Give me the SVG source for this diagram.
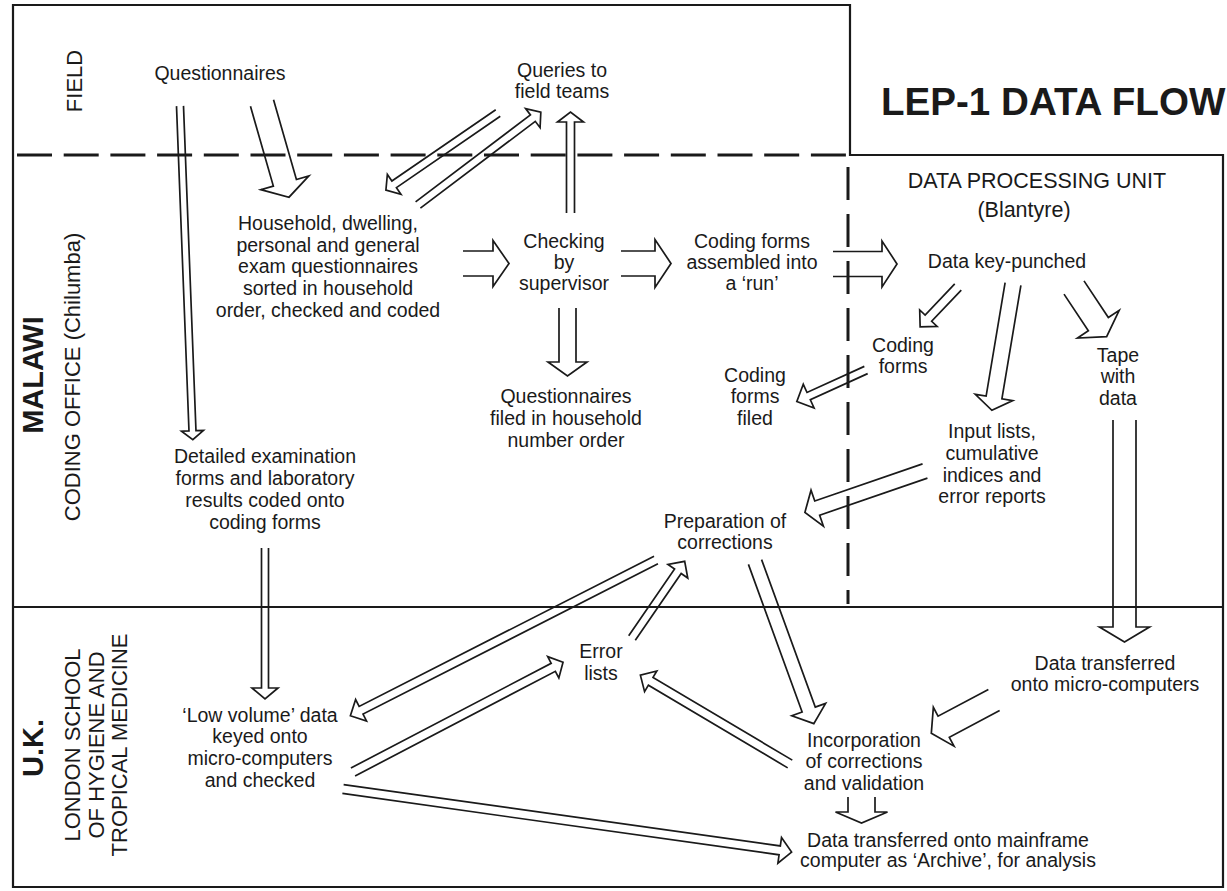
<svg xmlns="http://www.w3.org/2000/svg" width="1227" height="891" viewBox="0 0 1227 891">
<style>
text{font-family:"Liberation Sans",Arial,Helvetica,sans-serif;fill:#1a1a1a}
.t{font-size:19.5px;text-anchor:middle}
.zone{font-size:22px;text-anchor:middle}
.zb{font-size:29px;font-weight:bold;text-anchor:middle}
.frame{fill:none;stroke:#1a1a1a;stroke-width:2.2}
.dash{fill:none;stroke:#1a1a1a;stroke-width:3}
.arr{fill:none;stroke:#1a1a1a;stroke-width:1.7;stroke-linejoin:miter}
</style>
<rect width="1227" height="891" fill="#ffffff"/>
<g id="frame">
<path class="frame" d="M13,5 H850 V155 H1223 V887 H13 Z"/>
<line class="frame" x1="13" y1="607" x2="1223" y2="607"/>
<line class="dash" x1="17" y1="155" x2="850" y2="155" stroke-dasharray="35 11.7"/>
<line class="dash" x1="848" y1="167" x2="848" y2="604" stroke-dasharray="33 14"/>
</g>
<g id="zone-labels">
<text class="zone" transform="translate(82,81) rotate(-90)">FIELD</text>
<text class="zb" transform="translate(43,375) rotate(-90)">MALAWI</text>
<text class="zone" transform="translate(80,377) rotate(-90)">CODING OFFICE (Chilumba)</text>
<text class="zb" transform="translate(43,748) rotate(-90)">U.K.</text>
<text class="zone" transform="translate(80,745) rotate(-90)">LONDON SCHOOL</text>
<text class="zone" transform="translate(103.5,745) rotate(-90)">OF HYGIENE AND</text>
<text class="zone" transform="translate(127,745) rotate(-90)">TROPICAL MEDICINE</text>
</g>
<g id="title">
<text x="881" y="115" style="font-size:38.6px;font-weight:bold">LEP-1 DATA FLOW</text>
</g>
<g id="dpu-label">
<text class="t" x="1037" y="188" style="font-size:21.5px">DATA PROCESSING UNIT</text>
<text class="t" x="1024" y="217" style="font-size:21.5px">(Blantyre)</text>
</g>
<g id="questionnaires"><text class="t" x="220" y="80">Questionnaires</text></g>
<g id="queries"><text class="t" x="562" y="77">Queries to</text><text class="t" x="562" y="98">field teams</text></g>
<g id="household">
<text class="t" x="328" y="230">Household, dwelling,</text>
<text class="t" x="328" y="252">personal and general</text>
<text class="t" x="328" y="273">exam questionnaires</text>
<text class="t" x="328" y="295">sorted in household</text>
<text class="t" x="328" y="317">order, checked and coded</text>
</g>
<g id="checking">
<text class="t" x="564" y="248">Checking</text>
<text class="t" x="564" y="269">by</text>
<text class="t" x="564" y="290">supervisor</text>
</g>
<g id="assembled">
<text class="t" x="752" y="248">Coding forms</text>
<text class="t" x="752" y="269">assembled into</text>
<text class="t" x="752" y="290">a ‘run’</text>
</g>
<g id="keypunched"><text class="t" x="1007" y="268">Data key-punched</text></g>
<g id="q-filed">
<text class="t" x="566" y="403">Questionnaires</text>
<text class="t" x="566" y="425">filed in household</text>
<text class="t" x="566" y="447">number order</text>
</g>
<g id="cf-filed">
<text class="t" x="755" y="382">Coding</text>
<text class="t" x="755" y="403">forms</text>
<text class="t" x="755" y="425">filed</text>
</g>
<g id="coding-forms">
<text class="t" x="903" y="352">Coding</text>
<text class="t" x="903" y="373">forms</text>
</g>
<g id="tape">
<text class="t" x="1118" y="362">Tape</text>
<text class="t" x="1118" y="383">with</text>
<text class="t" x="1118" y="405">data</text>
</g>
<g id="input-lists">
<text class="t" x="992" y="438">Input lists,</text>
<text class="t" x="992" y="460">cumulative</text>
<text class="t" x="992" y="482">indices and</text>
<text class="t" x="992" y="503">error reports</text>
</g>
<g id="detailed">
<text class="t" x="265" y="463">Detailed examination</text>
<text class="t" x="265" y="485">forms and laboratory</text>
<text class="t" x="265" y="507">results coded onto</text>
<text class="t" x="265" y="529">coding forms</text>
</g>
<g id="preparation">
<text class="t" x="725" y="528">Preparation of</text>
<text class="t" x="725" y="549">corrections</text>
</g>
<g id="error-lists">
<text class="t" x="601" y="658">Error</text>
<text class="t" x="601" y="680">lists</text>
</g>
<g id="low-volume">
<text class="t" x="260" y="722">‘Low volume’ data</text>
<text class="t" x="260" y="743">keyed onto</text>
<text class="t" x="260" y="765">micro-computers</text>
<text class="t" x="260" y="787">and checked</text>
</g>
<g id="transferred-micro">
<text class="t" x="1105" y="670">Data transferred</text>
<text class="t" x="1105" y="691">onto micro-computers</text>
</g>
<g id="incorporation">
<text class="t" x="864" y="747">Incorporation</text>
<text class="t" x="864" y="768">of corrections</text>
<text class="t" x="864" y="790">and validation</text>
</g>
<g id="mainframe">
<text class="t" x="948" y="847">Data transferred onto mainframe</text>
<text class="t" x="948" y="867">computer as ‘Archive’, for analysis</text>
</g>
<g id="connectors">
<path class="arr" transform="translate(463,263.5)" d="M0,-12.5 H30 V-23 L46,0 L30,23 V12.5 H0"/>
<path class="arr" transform="translate(621,263.5)" d="M0,-12.5 H34 V-24 L50,0 L34,24 V12.5 H0"/>
<path class="arr" transform="translate(833,264)" d="M0,-12.5 H49 V-23 L64,0 L49,23 V12.5 H0"/>
<path class="arr" transform="translate(567.5,308) rotate(90)" d="M0,-8.5 H54 V-19.5 L68,0 L54,19.5 V8.5 H0"/>
<path class="arr" transform="translate(570.5,213) rotate(-90)" d="M0,-4 H91 V-13 L101,0 L91,13 V4 H0"/>
<path class="arr" transform="translate(418,205) rotate(-37.1)" d="M0,-4 H144 V-12 L154,0 L144,12 V4 H0"/>
<path class="arr" transform="translate(498,113) rotate(145.5)" d="M0,-4 H126 V-12 L136,0 L126,12 V4 H0"/>
<path class="arr" transform="translate(262,103) rotate(74)" d="M0,-12 H83 V-25 L98,0 L83,25 V12 H0"/>
<path class="arr" transform="translate(180,106) rotate(87.8)" d="M0,-3.5 H325 V-11 L334,0 L325,11 V3.5 H0"/>
<path class="arr" transform="translate(265,548) rotate(90)" d="M0,-3.5 H140 V-13 L151,0 L140,13 V3.5 H0"/>
<path class="arr" transform="translate(958,287) rotate(133.5)" d="M0,-4.5 H43 V-12 L55,0 L43,12 V4.5 H0"/>
<path class="arr" transform="translate(1013,284) rotate(99.5)" d="M0,-8 H115 V-19 L128,0 L115,19 V8 H0"/>
<path class="arr" transform="translate(1074,287.5) rotate(56.4)" d="M0,-12 H44 V-25 L59,0 L44,25 V12 H0"/>
<path class="arr" transform="translate(1124.5,420) rotate(90)" d="M0,-11.5 H207 V-25 L222,0 L207,25 V11.5 H0"/>
<path class="arr" transform="translate(866,370) rotate(155.5)" d="M0,-4 H63 V-13 L76,0 L63,13 V4 H0"/>
<path class="arr" transform="translate(925,471) rotate(161)" d="M0,-7.5 H114 V-19 L127,0 L114,19 V7.5 H0"/>
<path class="arr" transform="translate(755,562) rotate(70)" d="M0,-7 H157 V-18 L172,0 L157,18 V7 H0"/>
<path class="arr" transform="translate(656,560) rotate(153)" d="M0,-4.3 H331 V-12 L343,0 L331,12 V4.3 H0"/>
<path class="arr" transform="translate(353,772) rotate(-27.6)" d="M0,-4.5 H226 V-12 L237,0 L226,12 V4.5 H0"/>
<path class="arr" transform="translate(632,638) rotate(-55.5)" d="M0,-4 H81 V-12 L93,0 L81,12 V4 H0"/>
<path class="arr" transform="translate(790,764) rotate(-149.3)" d="M0,-4.5 H162 V-12 L174,0 L162,12 V4.5 H0"/>
<path class="arr" transform="translate(994,700) rotate(152)" d="M0,-12 H57 V-22 L71,0 L57,22 V12 H0"/>
<path class="arr" transform="translate(861.5,797) rotate(90)" d="M0,-13.5 H15 V-26 L26,0 L15,26 V13.5 H0"/>
<path class="arr" transform="translate(343,789) rotate(8)" d="M0,-4.5 H441 V-13 L453,0 L441,13 V4.5 H0"/>
</g>
</svg>
